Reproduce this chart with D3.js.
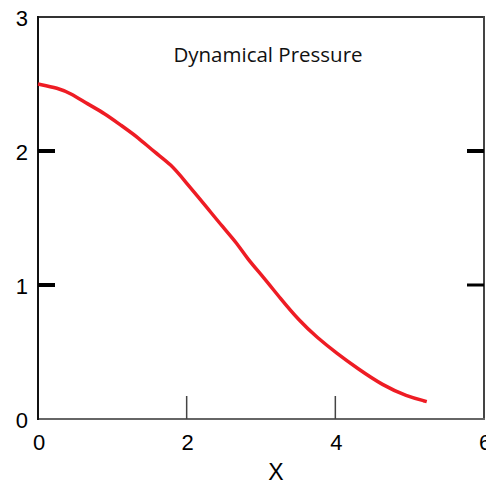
<!DOCTYPE html>
<html><head><meta charset="utf-8">
<script src="https://cdn.jsdelivr.net/npm/d3@7"></script>
<style>html,body{margin:0;padding:0;background:#fff;overflow:hidden}</style>
</head><body>
<script>
const xs = [0, 0.27, 0.44, 0.67, 0.90, 1.12, 1.35, 1.57, 1.79, 1.97, 2.27, 2.49, 2.68, 2.81, 3.03, 3.26, 3.52, 3.75, 4.02, 4.29, 4.64, 4.96, 5.23];
const ys = [2.50, 2.47, 2.43, 2.35, 2.28, 2.19, 2.10, 1.99, 1.90, 1.78, 1.58, 1.43, 1.31, 1.20, 1.06, 0.90, 0.73, 0.61, 0.49, 0.38, 0.25, 0.17, 0.13];
const xTicks = [0, 2, 4, 6];
const yTicks = [0, 1, 2, 3];
const title = "Dynamical Pressure";
const xLabel = "X";

const W = 486, H = 485;
const svg = d3.select("body").append("svg").attr("width", W).attr("height", H);
const x = d3.scaleLinear().domain([0, 6]).range([38, 484]);
const y = d3.scaleLinear().domain([0, 3]).range([419, 17]);

// frame
svg.append("line").attr("x1", 38).attr("x2", 484).attr("y1", 17).attr("y2", 17).attr("stroke", "#333").attr("stroke-width", 2);
svg.append("line").attr("x1", 484).attr("x2", 484).attr("y1", 16).attr("y2", 420).attr("stroke", "#444").attr("stroke-width", 2);
svg.append("line").attr("x1", 37).attr("x2", 485).attr("y1", 419).attr("y2", 419).attr("stroke", "#666").attr("stroke-width", 2);
svg.append("line").attr("x1", 38).attr("x2", 38).attr("y1", 16).attr("y2", 420).attr("stroke", "#111").attr("stroke-width", 2);

// x ticks (inside, thin)
svg.selectAll(".xt").data(xTicks.filter(d => d > 0 && d < 6)).enter().append("line")
  .attr("x1", d => x(d)).attr("x2", d => x(d)).attr("y1", 396).attr("y2", 419)
  .attr("stroke", "#444").attr("stroke-width", 1.5);
// y ticks (inside, thick)
const yInner = yTicks.filter(d => d > 0 && d < 3);
svg.selectAll(".ytl").data(yInner).enter().append("line")
  .attr("x1", 38).attr("x2", 55).attr("y1", d => y(d)).attr("y2", d => y(d))
  .attr("stroke", "#000").attr("stroke-width", 4);
svg.selectAll(".ytr").data(yInner).enter().append("line")
  .attr("x1", 467).attr("x2", 484).attr("y1", d => y(d)).attr("y2", d => y(d))
  .attr("stroke", "#000").attr("stroke-width", d => d === 2 ? 4 : 3);

// tick labels
const font = "'Liberation Sans', Arial, Helvetica, sans-serif";
svg.selectAll(".xl").data(xTicks).enter().append("text")
  .attr("x", d => x(d) + 1).attr("y", 450).attr("text-anchor", "middle")
  .attr("font-family", font).attr("font-size", 22).attr("fill", "#000").text(d => d);
svg.selectAll(".yl").data(yTicks).enter().append("text")
  .attr("x", 28).attr("y", d => y(d) + 9).attr("text-anchor", "end")
  .attr("font-family", font).attr("font-size", 22).attr("fill", "#000").text(d => d);

svg.append("text").attr("x", 276).attr("y", 480).attr("text-anchor", "middle")
  .attr("font-family", font).attr("font-size", 23).attr("fill", "#000").text(xLabel);

svg.append("text").attr("x", 268).attr("y", 62).attr("text-anchor", "middle")
  .attr("font-family", "'Open Sans', sans-serif").attr("font-size", 20.5).attr("fill", "#111").text(title);

// curve
const pts = xs.map((v, i) => [v, ys[i]]);
svg.append("path").datum(pts)
  .attr("fill", "none").attr("stroke", "#ee1c24").attr("stroke-width", 3.5)
  .attr("stroke-linejoin", "round").attr("stroke-linecap", "butt")
  .attr("d", d3.line().x(d => x(d[0])).y(d => y(d[1])).curve(d3.curveBasis));
</script>
</body></html>
